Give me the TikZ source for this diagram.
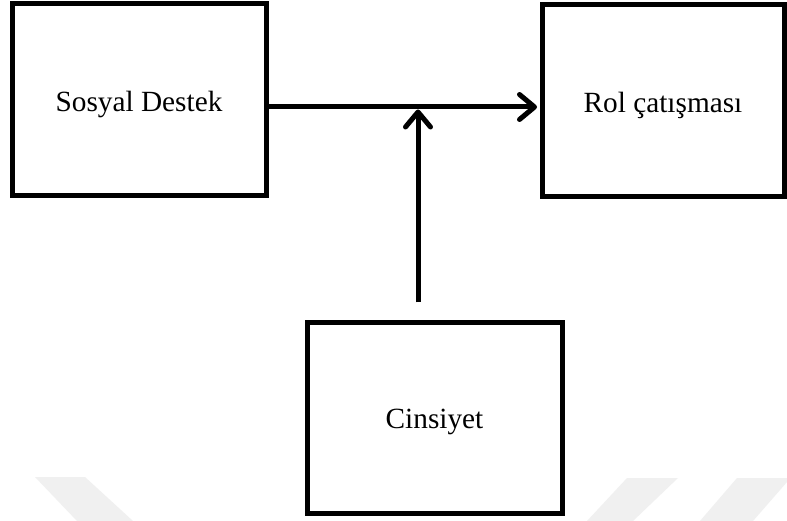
\documentclass[tikz,border=0pt]{standalone}
\usepackage{fontspec}
\setmainfont{Liberation Serif}
\usetikzlibrary{arrows.meta}
\newcommand{\boxtext}[1]{\raisebox{-4.5pt}[\height][\depth]{#1}}
\begin{document}
\begin{tikzpicture}[x=1pt,y=1pt,
  box/.style={draw=black, line width=5pt, fill=white, rectangle, inner sep=0pt,
    font=\fontsize{29.3}{35}\selectfont},
  arr/.style={line width=5pt, -{Straight Barb[length=15pt,width=25pt,round]}},
  band/.style={fill=black!6, draw=none}
]
% page frame
\useasboundingbox (0,0) rectangle (787,-521);
\fill[white] (0,0) rectangle (787,-521);

% faint background bands
\fill[band] (35,-477) -- (85,-477) -- (133,-521) -- (77,-521) -- cycle;
\fill[band] (627,-478) -- (678,-478) -- (633,-521) -- (587,-521) -- cycle;
\fill[band] (737,-478) -- (787,-478) -- (787,-482) -- (753,-521) -- (700,-521) -- cycle;

% boxes
\node[box, minimum width=254pt, minimum height=192pt] (sd) at (139,-100) {\boxtext{Sosyal Destek}};
\node[box, minimum width=242pt, minimum height=192pt] (rc) at (663,-101) {\boxtext{Rol çatışması}};
\node[box, minimum width=255pt, minimum height=191pt] (cs) at (434.5,-417.5) {\boxtext{Cinsiyet}};

% junction on the main arrow
\coordinate (j) at ([xshift=-16.5pt]cs.north |- 0,-107);

% connectors
\draw[arr, shorten >=2.5pt] ([yshift=-7pt]sd.east) -- ([yshift=-6pt]rc.west);
\draw[arr] ([xshift=-16.5pt,yshift=17pt]cs.north) -- ([yshift=-2.5pt]j);
\end{tikzpicture}
\end{document}
